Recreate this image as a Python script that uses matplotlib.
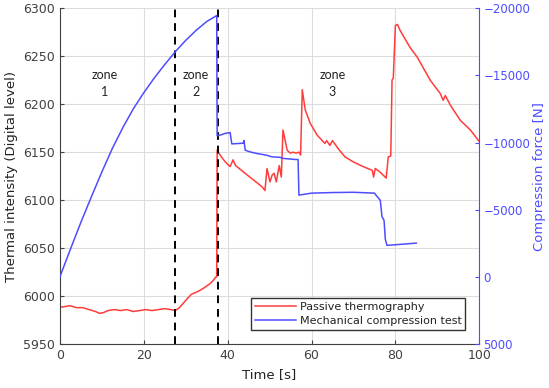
import matplotlib.pyplot as plt

# Passive thermography (left axis, digital level)
t_red = [0, 1, 2.4, 4, 5.5, 7, 8.5, 9.5, 10.5, 11.5, 13, 14.5, 16, 17.5, 19, 20.5, 22, 23.5,
         25, 26.5, 27.5, 28.5, 29.5, 30.5, 31.4, 32.5, 33.4, 34.5, 35.8, 36.5, 37.2, 37.4,
         37.5, 38.2, 39.4, 40.6, 41.3, 41.9, 45.3, 48.2, 48.9, 49.4, 50.1, 50.6, 51.1, 51.6,
         52.3, 52.8, 53.2, 54.2, 54.9, 55.6, 56.3, 57.0, 57.4, 57.8, 58.5, 59.7, 61.3, 63.2,
         63.6, 64.4, 65.0, 66.3, 68.0, 69.9, 72.3, 74.5, 74.8, 75.2, 76.4, 77.8, 78.3, 78.9,
         79.2, 79.5, 80.0, 80.5, 81.1, 83.5, 85.2, 88.3, 90.7, 91.4, 91.9, 93.1, 95.5, 97.9, 100]
v_red = [5988.5, 5989, 5990, 5988, 5988, 5986, 5984, 5982, 5983, 5985, 5986, 5985, 5986, 5984, 5985, 5986, 5985, 5986,
         5987, 5986, 5985, 5988, 5993, 5998, 6002, 6004, 6006, 6009, 6013, 6016, 6020, 6020,
         6152, 6147, 6140, 6135, 6142, 6136, 6124, 6114, 6110, 6133, 6119, 6126, 6128, 6119,
         6136, 6124, 6173, 6152, 6149, 6150, 6149, 6150, 6147, 6215, 6194, 6180, 6168, 6159,
         6162, 6157, 6162, 6154, 6145, 6140, 6135, 6131, 6124, 6133, 6129, 6123, 6145, 6146,
         6225, 6227, 6282, 6283, 6277, 6259, 6249, 6225, 6211, 6204, 6209, 6199, 6183, 6173, 6161]

# Mechanical compression test (right axis, N)
t_blue = [0, 2.5, 5, 7.5, 10, 12.5, 15, 17.5, 20, 22.5, 25, 27.5, 30, 32.5, 35, 37.4,
          37.5, 38.2, 39.4, 40.6, 41.0, 43.7, 43.9, 44.2, 45.3, 46.9, 49.3, 50.5, 52.5, 53.3,
          56.1, 56.8, 57.0, 60, 65, 70, 75, 76.4, 76.8, 77.3, 77.6, 78, 81, 85]
f_blue = [0, -2050, -4050, -5950, -7800, -9550, -11100, -12500, -13700, -14800, -15800, -16750, -17600, -18350, -19000, -19450,
          -10500, -10550, -10680, -10740, -9900, -9950, -10150, -9430, -9310, -9190, -9060, -8940, -8900, -8820,
          -8740, -8740, -6090, -6236, -6280, -6300, -6236, -5700, -4500, -4200, -2800, -2350, -2420, -2520]

zone_edges = [27.5, 37.6]
zone_labels = ["zone\n1", "zone\n2", "zone\n3"]
zone_x = [10.7, 32.5, 65]

gray = '#404040'
red = '#ff3c3c'
blue = '#4d4dff'

fig = plt.figure(figsize=(5.49, 3.88), dpi=100)
ax = fig.add_axes([0.109, 0.113, 0.764, 0.866])
ax2 = ax.twinx()

l1, = ax.plot(t_red, v_red, color=red, lw=1.1, label='Passive thermography')
l2, = ax2.plot(t_blue, f_blue, color=blue, lw=1.1, label='Mechanical compression test')

for x in zone_edges:
    ax.axvline(x, color='black', ls=(0, (4, 3)), lw=1.4, zorder=5)
for x, s in zip(zone_x, zone_labels):
    ax.text(x, 6222, s, ha='center', va='center', fontsize=9, family='Lato',
            color='#222222', linespacing=1.5)

ax.set_xlim(0, 100)
ax.set_ylim(5950, 6300)
ax2.set_ylim(5000, -20000)
ax.set_xticks([0, 20, 40, 60, 80, 100])
ax.set_yticks(range(5950, 6301, 50))
ax2.set_yticks([5000, 0, -5000, -10000, -15000, -20000])

ax.grid(True, color='#dcdcdc', lw=0.8)
ax.set_axisbelow(True)

ax.tick_params(direction='in', colors=gray, labelsize=9, length=3)
ax2.tick_params(direction='in', colors=blue, labelsize=8.5, length=3, pad=3)
ax.spines['top'].set_visible(False)
ax2.spines['top'].set_visible(False)
ax.spines['left'].set_color(gray)
ax.spines['bottom'].set_color(gray)
ax.spines['right'].set_visible(False)
ax2.spines['left'].set_visible(False)
ax2.spines['bottom'].set_visible(False)
ax2.spines['right'].set_color(blue)

ax.set_xlabel('Time [s]', fontsize=9.5, color='#222222', labelpad=4)
ax.set_ylabel('Thermal intensity (Digital level)', fontsize=9.5, color='#222222')
ax2.set_ylabel('Compression force [N]', fontsize=9.5, color=blue, labelpad=2)

leg = ax2.legend([l1, l2], [l1.get_label(), l2.get_label()], loc='lower right',
                 bbox_to_anchor=(0.98, 0.025), fontsize=8, fancybox=False,
                 framealpha=1, edgecolor='#333333', borderpad=0.35,
                 handlelength=3.7, handletextpad=0.3, labelspacing=0.4)
leg.get_frame().set_linewidth(1)
for txt in leg.get_texts():
    txt.set_color('#222222')

fig.savefig('out.png', dpi=100)
